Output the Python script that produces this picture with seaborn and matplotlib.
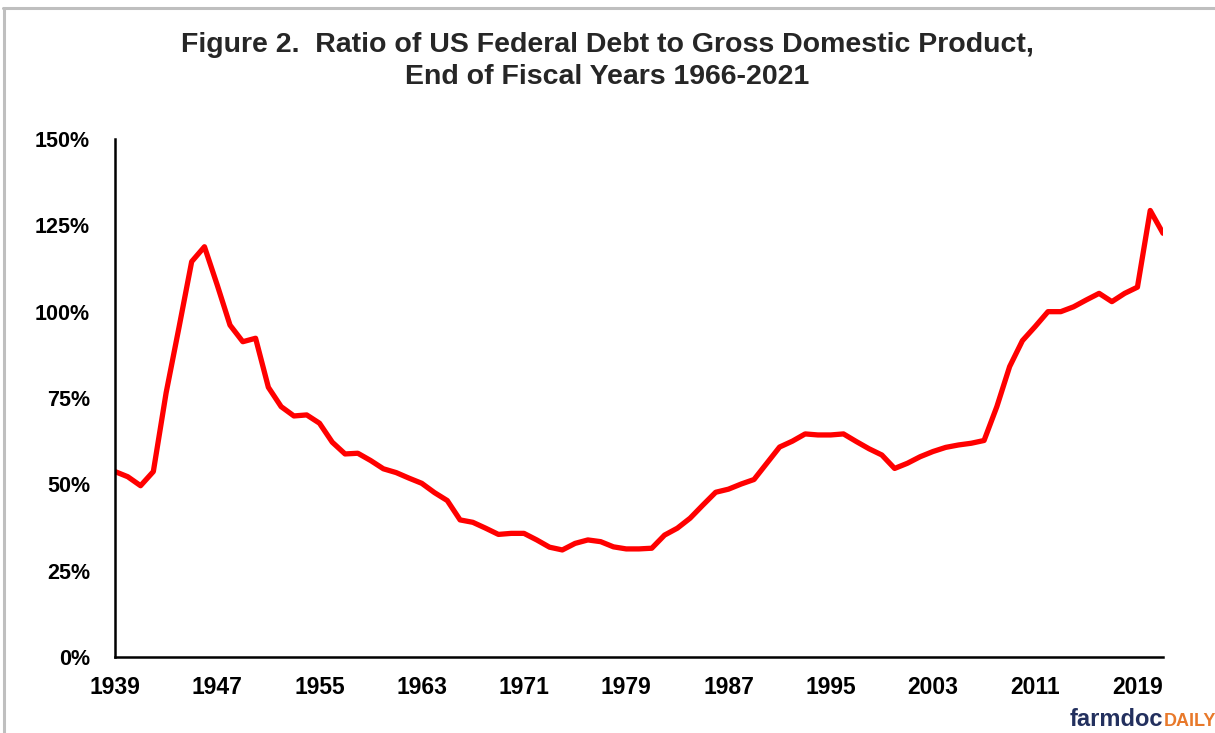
import numpy as np
import pandas as pd
import matplotlib
matplotlib.use("Agg")
import matplotlib.pyplot as plt
from matplotlib.lines import Line2D
import seaborn as sns

# ── data ──────────────────────────────────────────────
years = list(range(1939, 2022))

debt_to_gdp = [
    53.7, 52.2, 49.6, 53.7, 76.5, 95.3, 114.5, 118.8, 107.7, 96.1,   # 1939-1948
    91.3, 92.3, 78.1, 72.5, 69.8, 70.1, 67.7, 62.2, 58.8, 59.0,      # 1949-1958
    56.9, 54.5, 53.4, 51.8, 50.3, 47.6, 45.3, 39.7, 39.0, 37.3,      # 1959-1968
    35.5, 35.8, 35.8, 33.9, 31.8, 31.0, 32.9, 33.9, 33.4, 31.9,      # 1969-1978
    31.3, 31.3, 31.5, 35.3, 37.3, 40.2, 44.0, 47.7, 48.6, 50.1,      # 1979-1988
    51.4, 56.1, 60.8, 62.5, 64.6, 64.3, 64.3, 64.6, 62.4, 60.3,      # 1989-1998
    58.5, 54.6, 56.1, 58.0, 59.5, 60.7, 61.4, 61.9, 62.7, 72.5,      # 1999-2008
    84.1, 91.6, 95.7, 100.0, 100.0, 101.4, 103.4, 105.3, 102.9, 105.3,  # 2009-2018
    107.1, 129.3, 122.7,                                              # 2019-2021
]

x_ticks = list(range(1939, 2022, 8))
y_ticks = [0, 25, 50, 75, 100, 125, 150]
y_tick_labels = [f"{v}%" for v in y_ticks]

title_lines = [
    "Figure 2.  Ratio of US Federal Debt to Gross Domestic Product,",
    "End of Fiscal Years 1966-2021",
]

df = pd.DataFrame({"year": years, "ratio": debt_to_gdp})

# ── plot ──────────────────────────────────────────────
sns.set_style("white")
plt.rcParams["font.family"] = ["Liberation Sans", "DejaVu Sans"]

fig = plt.figure(figsize=(12.15, 7.33), dpi=100)
ax = fig.add_axes([115 / 1215, 76 / 733, (1163 - 115) / 1215, (657 - 139) / 733])

sns.lineplot(data=df, x="year", y="ratio", ax=ax, color="#ff0000", linewidth=3.8)

ax.set_xlim(1939, 2021)
ax.set_ylim(0, 150)
ax.set_xticks(x_ticks)
ax.set_xticklabels([str(t) for t in x_ticks], fontsize=16.5, fontweight="bold")
ax.set_yticks(y_ticks)
ax.set_yticklabels(y_tick_labels, fontsize=15.5, fontweight="bold")
ax.set_xlabel("")
ax.set_ylabel("")

for side in ["top", "right"]:
    ax.spines[side].set_visible(False)
for side in ["left", "bottom"]:
    ax.spines[side].set_color("black")
    ax.spines[side].set_linewidth(1.8)

ax.tick_params(axis="x", direction="inout", length=12, width=1.8, pad=8, colors="black")
ax.tick_params(axis="y", direction="out", length=7, width=1.8, pad=11, colors="black")
ax.grid(False)

fig.text(0.5, 1 - 45 / 733, title_lines[0], ha="center", va="center",
         fontsize=20.5, fontweight="bold")
fig.text(0.5, 1 - 77 / 733, title_lines[1], ha="center", va="center",
         fontsize=20.5, fontweight="bold")

# frame like the original chart box
fig.add_artist(Line2D([3 / 1215, 1], [1 - 8 / 733, 1 - 8 / 733], color="#bfbfbf", lw=2.2,
                      transform=fig.transFigure))
fig.add_artist(Line2D([4 / 1215, 4 / 1215], [0, 1 - 8 / 733], color="#bfbfbf", lw=2.2,
                      transform=fig.transFigure))

# farmdocDAILY logo
t1 = fig.text(1070 / 1215, 1 - 720 / 733, "farmdoc", ha="left", va="center",
              fontsize=17, fontweight="bold", color="#23305e")
fig.canvas.draw()
bb = t1.get_window_extent()
fig.text(bb.x1 / fig.bbox.width, 1 - 721 / 733, "DAILY", ha="left", va="center",
         fontsize=13, fontweight="bold", color="#e8792b")

fig.savefig("out.png", dpi=100, facecolor="white")
